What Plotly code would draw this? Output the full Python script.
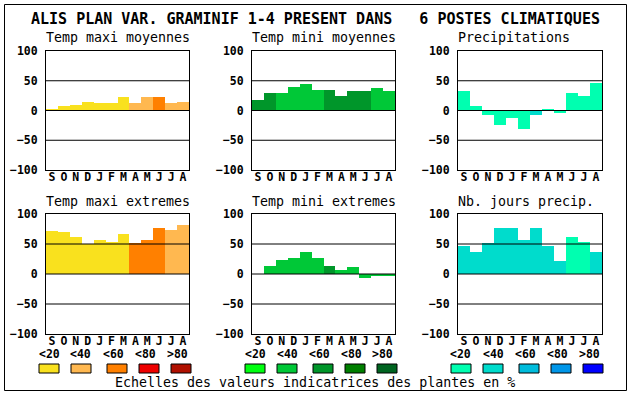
import plotly.graph_objects as go

W, H = 630, 394

# ---------------- data ----------------
months = ["S", "O", "N", "D", "J", "F", "M", "A", "M", "J", "J", "A"]
month_pos = list(range(len(months)))

titles = ["Temp maxi moyennes", "Temp mini moyennes", "Precipitations",
          "Temp maxi extremes", "Temp mini extremes", "Nb. jours precip."]

tmax_moy = [2, 7, 10, 15, 13, 13, 22, 12, 22, 22, 13, 15]
tmax_moy_cls = [0, 0, 0, 0, 0, 0, 0, 1, 1, 2, 1, 1]

tmin_moy = [17, 30, 30, 40, 44, 35, 34, 24, 32, 32, 37, 32]
tmin_moy_cls = [2, 2, 1, 1, 1, 1, 2, 2, 2, 2, 1, 1]

precip = [32, 7, -7, -25, -13, -31, -7, 3, -5, 30, 25, 47]
precip_cls = [0, 0, 0, 0, 0, 0, 1, 0, 0, 0, 0, 0]

tmax_ext = [72, 70, 62, 50, 57, 54, 66, 52, 56, 77, 74, 82]
tmax_ext_cls = [0, 0, 0, 0, 0, 0, 0, 2, 2, 2, 1, 1]

tmin_ext = [0, 14, 24, 27, 36, 27, 14, 6, 11, -6, -2, -2]
tmin_ext_cls = [1, 1, 1, 1, 1, 1, 2, 1, 1, 1, 1, 1]

nbj = [46, 37, 52, 76, 76, 56, 76, 46, 22, 62, 54, 36]
nbj_cls = [1, 1, 1, 1, 1, 1, 1, 1, 1, 0, 0, 1]

legend_labels = ["<20", "<40", "<60", "<80", ">80"]
yticks = [-100, -50, 0, 50, 100]

title_text = "ALIS PLAN VAR. GRAMINIF 1-4 PRESENT DANS   6 POSTES CLIMATIQUES"
caption_text = "Echelles des valeurs indicatrices des plantes en %"

# ---------------- styles ----------------
pal_warm = ["#f9e11e", "#ffb850", "#ff8000", "#ee0000", "#b01000"]
pal_green = ["#00ff10", "#00c837", "#00962a", "#007f00", "#006420"]
pal_blue = ["#00ffb0", "#00dccc", "#00bcdc", "#0096e8", "#0000ff"]

panels = [
    (tmax_moy, tmax_moy_cls, pal_warm),
    (tmin_moy, tmin_moy_cls, pal_green),
    (precip, precip_cls, pal_blue),
    (tmax_ext, tmax_ext_cls, pal_warm),
    (tmin_ext, tmin_ext_cls, pal_green),
    (nbj, nbj_cls, pal_blue),
]

# plot areas in pixels (x0, x1), (y0, y1) from top
col_px = [(46, 189), (252, 395), (458, 602)]
row_px = [(51, 170), (214, 334)]

MONO = "DejaVu Sans Mono"


def px(x):
    return x / W


def py(y):
    return 1 - y / H


fig = go.Figure()
shapes = []
annotations = []

sw_off = [-7, 25, 61, 93, 125]
lab_off = [3, 35, 67, 99, 131]

for i, (vals, cls, pal) in enumerate(panels):
    r, c = divmod(i, 3)
    n = i + 1
    xa = "x" if n == 1 else f"x{n}"
    ya = "y" if n == 1 else f"y{n}"
    fig.add_trace(go.Bar(
        x=month_pos, y=vals, xaxis=xa, yaxis=ya,
        marker=dict(color=[pal[k] for k in cls], line=dict(width=0)),
        width=1.0, showlegend=False, hoverinfo="skip",
    ))
    (x0, x1), (y0, y1) = col_px[c], row_px[r]
    xkey = "xaxis" if n == 1 else f"xaxis{n}"
    ykey = "yaxis" if n == 1 else f"yaxis{n}"
    fig.layout[xkey] = dict(
        domain=[px(x0), px(x1)], anchor=ya, range=[-0.5, 11.5],
        tickvals=month_pos, ticktext=months, showgrid=False, zeroline=False,
        showline=True, mirror=True, linecolor="black", linewidth=1,
        ticks="", ticklabelstandoff=-4, automargin=False,
        tickfont=dict(family=MONO, size=11.5, color="black", weight="bold"),
        fixedrange=True,
    )
    fig.layout[ykey] = dict(
        domain=[py(y1), py(y0)], anchor=xa, range=[-100, 100],
        tickvals=yticks, showgrid=False, zeroline=False,
        showline=True, mirror=True, linecolor="black", linewidth=1,
        ticks="", ticklabelstandoff=5, automargin=False,
        tickfont=dict(family=MONO, size=11.5, color="black", weight="bold"),
        fixedrange=True,
    )
    for gv in [50, 0, -50]:
        shapes.append(dict(type="line", xref=f"{xa} domain", yref=ya,
                           x0=0, x1=1, y0=gv, y1=gv,
                           line=dict(color="black", width=1), layer="above"))
    # subtitle
    annotations.append(dict(text=titles[i], xref="paper", yref="paper",
                            x=px(x0 - 2), y=py(y0 - 13), xanchor="left",
                            yanchor="middle", showarrow=False,
                            font=dict(family=MONO, size=13.3, color="black")))
    # legend (one per column, under bottom row)
    if r == 1:
        for k in range(5):
            sx = x0 + sw_off[k]
            shapes.append(dict(type="rect", xref="paper", yref="paper",
                               x0=px(sx), x1=px(sx + 20), y0=py(373), y1=py(364),
                               fillcolor=pal[k], line=dict(color="black", width=1)))
            annotations.append(dict(text=legend_labels[k], xref="paper", yref="paper",
                                    x=px(x0 + lab_off[k]), y=py(354),
                                    xanchor="center", yanchor="middle", showarrow=False,
                                    font=dict(family=MONO, size=11.5, color="black",
                                              weight="bold")))

# outer frame
shapes.append(dict(type="rect", xref="paper", yref="paper",
                   x0=px(4.5), x1=px(626.5), y0=py(390.5), y1=py(4.5),
                   line=dict(color="black", width=1), fillcolor="rgba(0,0,0,0)"))

annotations.append(dict(text=title_text, xref="paper", yref="paper",
                        x=px(29), y=py(18.5), xanchor="left", yanchor="middle",
                        showarrow=False,
                        font=dict(family=MONO, size=15, color="black", weight="bold")))
annotations.append(dict(text=caption_text, xref="paper", yref="paper",
                        x=px(113), y=py(382), xanchor="left", yanchor="middle",
                        showarrow=False,
                        font=dict(family=MONO, size=13.3, color="black")))

fig.update_layout(
    width=W, height=H, margin=dict(l=0, r=0, t=0, b=0, pad=0, autoexpand=False),
    paper_bgcolor="white", plot_bgcolor="white",
    bargap=0, shapes=shapes, annotations=annotations,
)

fig.write_html("out.html", config={"displayModeBar": False},
               post_script="document.body.style.margin='0px';document.body.style.overflow='hidden';")
